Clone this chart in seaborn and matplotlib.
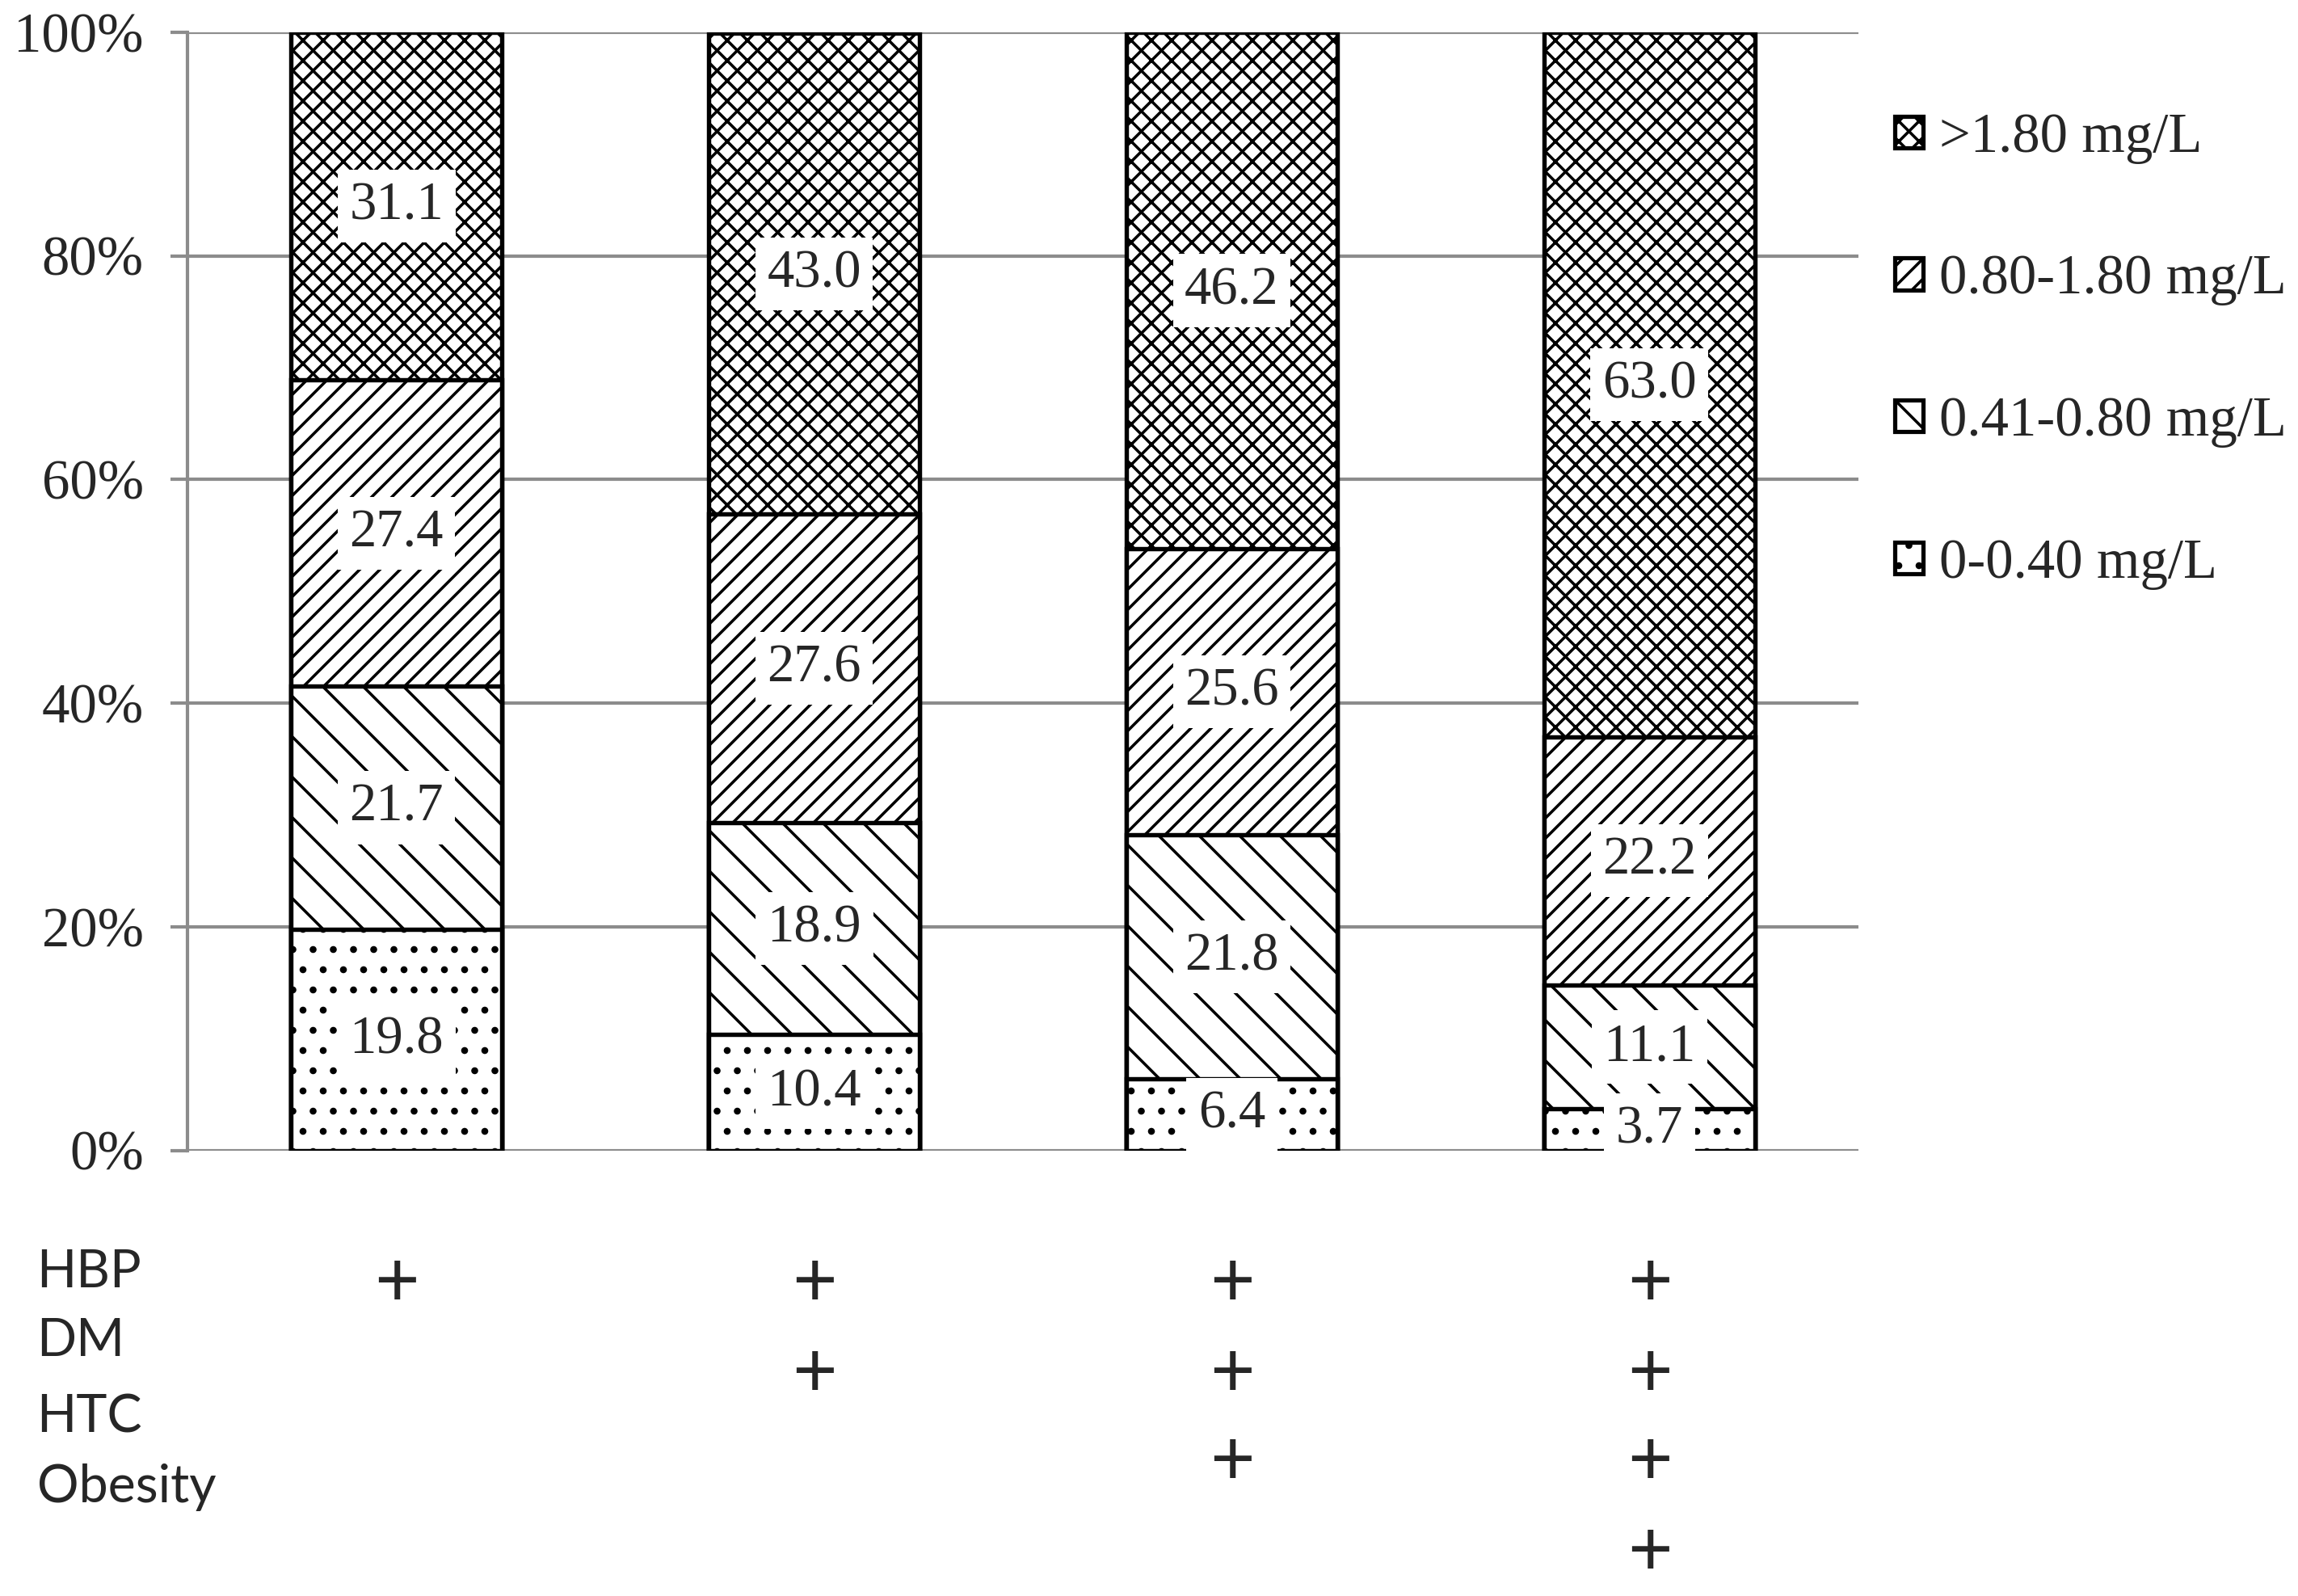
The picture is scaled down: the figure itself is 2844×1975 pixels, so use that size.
import matplotlib
matplotlib.use("Agg")
import matplotlib.pyplot as plt
import matplotlib.transforms as mtransforms
from matplotlib.patches import Patch
import numpy as np
import seaborn as sns

# Data: percentage of each hs-CRP level per risk-factor group
groups = ["HBP", "HBP+DM", "HBP+DM+HTC", "HBP+DM+HTC+Obesity"]
levels = ["0-0.40 mg/L", "0.41-0.80 mg/L", "0.80-1.80 mg/L", ">1.80 mg/L"]
crp_0_040 = [19.8, 10.4, 6.4, 3.7]
crp_041_080 = [21.7, 18.9, 21.8, 11.1]
crp_080_180 = [27.4, 27.6, 25.6, 22.2]
crp_gt_180 = [31.1, 43.0, 46.2, 63.0]
yticks = [0, 20, 40, 60, 80, 100]

# risk-factor row labels under the chart and number of "+" per group
risk_labels = ["HBP", "DM", "HTC", "Obesity"]
plus_count = [1, 2, 3, 4]

series = [crp_0_040, crp_041_080, crp_080_180, crp_gt_180]
hatches = [".", "\\", "//", "xx"]

sns.set_style("white")
plt.rcParams["font.family"] = ["Liberation Serif", "DejaVu Serif"]
plt.rcParams["hatch.linewidth"] = 1.7
plt.rcParams["hatch.color"] = "black"

fig = plt.figure(figsize=(18.96, 13.1667), dpi=150)
ax = fig.add_axes([0.0816, 0.2792, 0.8087 - 0.0816, 0.9798 - 0.2792])

cum = np.cumsum(np.array(series), axis=0)

# stacked bars: draw cumulative totals from the top layer down
for i in reversed(range(len(series))):
    sns.barplot(x=groups, y=cum[i], color="white", saturation=1,
                edgecolor="black", linewidth=2.6, hatch=hatches[i],
                width=0.505, ax=ax, zorder=2)

# value labels
for i, vals in enumerate(series):
    for j, v in enumerate(vals):
        ax.text(j, cum[i][j] - v / 2, f"{v:.1f}", ha="center", va="center",
                fontsize=32, zorder=5,
                bbox=dict(facecolor="white", edgecolor="none", pad=7))

grid_c = "#8c8c8c"
ax.set_xlim(-0.5, len(groups) - 0.5)
ax.set_ylim(0, 100)
ax.set_yticks(yticks)
ax.set_yticklabels([f"{t}%" for t in yticks], fontsize=33)
ax.yaxis.grid(True, color=grid_c, linewidth=2.0)
ax.set_axisbelow(True)
ax.set_xticks(np.arange(len(groups)) + 0.5)
ax.set_xticklabels([])
ax.tick_params(axis="x", direction="in", length=8, width=2.0, color=grid_c)
ax.tick_params(axis="y", direction="out", length=10, width=2.0, color=grid_c,
               pad=16, left=True)
for s in ["top", "right", "bottom"]:
    ax.spines[s].set_visible(False)
ax.spines["left"].set_color(grid_c)
ax.spines["left"].set_linewidth(2.0)
ax.set_xlabel("")
ax.set_ylabel("")

# risk factor labels and "+" marks
label_y = [0.2029, 0.1598, 0.1120, 0.0680]
plus_y = [0.1956, 0.1387, 0.0836, 0.0266]
for lab, y in zip(risk_labels, label_y):
    fig.text(0.016, y, lab, ha="left", va="center", fontsize=31,
             family=["Lato", "DejaVu Sans"])
trans = mtransforms.blended_transform_factory(ax.transData, fig.transFigure)
for j, n in enumerate(plus_count):
    for k in range(n):
        ax.text(j, plus_y[k], "+", transform=trans, ha="center", va="center",
                fontsize=46, family=["Lato", "DejaVu Sans"], clip_on=False)

# legend
handles = [Patch(facecolor="white", edgecolor="black", linewidth=2.5,
                 hatch=hatches[i], label=levels[i])
           for i in reversed(range(len(levels)))]
fig.legend(handles=handles, loc="center left", bbox_to_anchor=(0.8246, 0.780),
           frameon=False, fontsize=33, handlelength=0.5, handleheight=0.5,
           handletextpad=0.3, labelspacing=1.63, borderpad=0, borderaxespad=0)

fig.savefig("out.png", dpi=150)
